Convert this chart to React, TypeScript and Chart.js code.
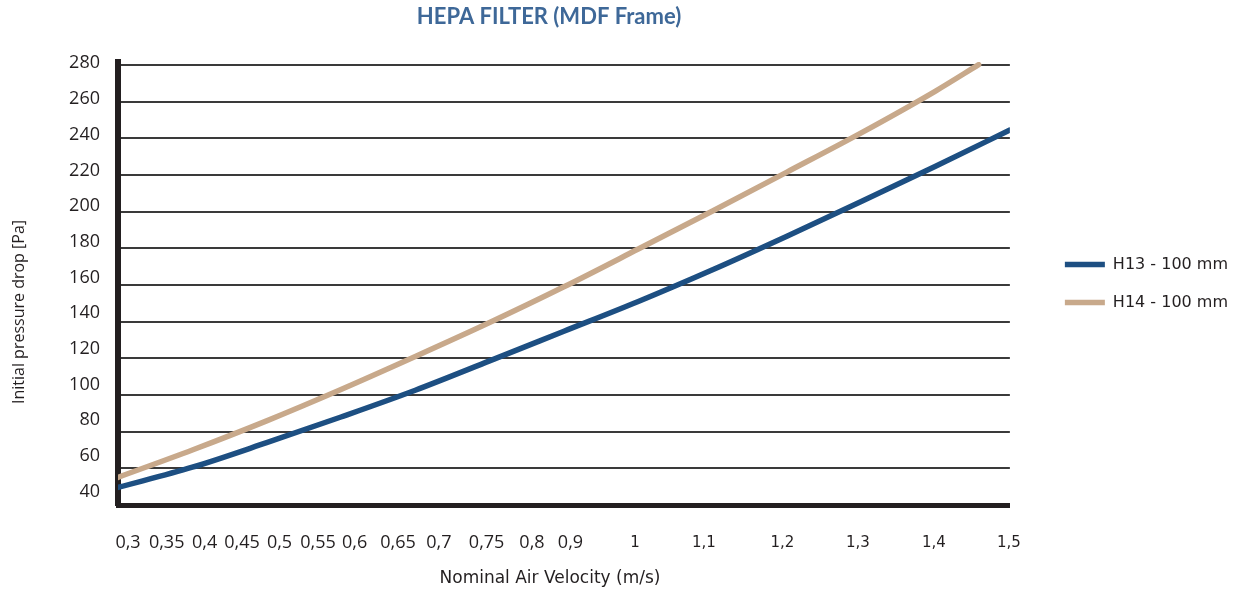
import React, { useEffect, useRef } from "react";
import { Chart, registerables } from "chart.js";

Chart.register(...registerables);

// ---- Text ----
const chartTitle = "HEPA FILTER (MDF Frame)";
const xAxisTitle = "Nominal Air Velocity (m/s)";
const yAxisTitle = "Initial pressure drop [Pa]";
const seriesNames = ["H13 - 100 mm", "H14 - 100 mm"];

// ---- Series (velocity m/s, pressure Pa) ----
const h13Velocity = [0.3, 0.4, 0.5, 0.6, 0.7, 0.8, 0.9, 1.0, 1.1, 1.2, 1.3, 1.4, 1.5];
const h13Pressure = [49.6, 60.6, 74.0, 88.0, 102.6, 118.6, 134.8, 151.0, 168.3, 186.6, 205.5, 224.8, 244.5];

const h14Velocity = [0.3, 0.4, 0.5, 0.6, 0.7, 0.8, 0.9, 1.0, 1.1, 1.2, 1.3, 1.4, 1.458];
const h14Pressure = [55.1, 70.0, 85.9, 103.0, 121.0, 139.5, 159.0, 179.6, 200.4, 221.6, 243.0, 265.8, 280.2];

// ---- Tick labels ----
const xTickLabels = ["0,3", "0,35", "0,4", "0,45", "0,5", "0,55", "0,6", "0,65", "0,7", "0,75", "0,8", "0,9", "1", "1,1", "1,2", "1,3", "1,4", "1,5"];
// where each x label sits along the velocity axis in the original drawing
const xTickAt = [0.3135, 0.3655, 0.4166, 0.4668, 0.5173, 0.5691, 0.6184, 0.6767, 0.7318, 0.796, 0.857, 0.9088, 0.9955, 1.0883, 1.1939, 1.2955, 1.3978, 1.4987];
const yTickValues = [40, 60, 80, 100, 120, 140, 160, 180, 200, 220, 240, 260, 280];

const INK = "#231f20";

const titlesPlugin = {
  id: "titlesPlugin",
  afterDraw(chart: any) {
    const ctx = chart.ctx;
    ctx.save();
    ctx.textAlign = "center";
    ctx.textBaseline = "middle";

    ctx.fillStyle = "#3e6898";
    ctx.font = "bold 22px Lato";
    ctx.fillText(chartTitle, 549, 17);

    ctx.fillStyle = INK;
    ctx.font = "17px 'DejaVu Sans'";
    ctx.fillText(xAxisTitle, 550, 579);

    ctx.translate(19, 312);
    ctx.rotate(-Math.PI / 2);
    ctx.font = "16px 'Open Sans'";
    ctx.fillText(yAxisTitle, 0, 0);
    ctx.restore();
  },
};

export default function App() {
  const canvasRef = useRef<HTMLCanvasElement | null>(null);

  useEffect(() => {
    if (!canvasRef.current) return;
    const toPoints = (xs: number[], ys: number[]) => xs.map((x, i) => ({ x, y: ys[i] }));

    const chart = new Chart(canvasRef.current, {
      type: "line",
      data: {
        datasets: [
          {
            label: seriesNames[0],
            data: toPoints(h13Velocity, h13Pressure),
            borderColor: "#1d4f82",
            backgroundColor: "#1d4f82",
            borderWidth: 5.5,
            borderCapStyle: "round",
            pointRadius: 0,
            cubicInterpolationMode: "monotone",
            yAxisID: "y",
          },
          {
            label: seriesNames[1],
            data: toPoints(h14Velocity, h14Pressure),
            borderColor: "#c8a98b",
            backgroundColor: "#c8a98b",
            borderWidth: 5.5,
            borderCapStyle: "round",
            pointRadius: 0,
            cubicInterpolationMode: "monotone",
            yAxisID: "y",
          },
        ],
      },
      options: {
        responsive: false,
        animation: false,
        layout: { padding: { top: 62, right: 4, left: 0, bottom: 0 } },
        plugins: {
          title: { display: false },
          tooltip: { enabled: false },
          legend: {
            position: "right",
            fullSize: false,
            maxWidth: 400,
            labels: {
              usePointStyle: true,
              pointStyle: "line",
              pointStyleWidth: 40,
              padding: 22,
              color: INK,
              font: { family: "'DejaVu Sans'", size: 16 },
            },
          },
        },
        scales: {
          x: {
            type: "linear",
            position: "bottom",
            min: 0.3,
            max: 1.5,
            afterBuildTicks: (scale: any) => {
              scale.ticks = xTickAt.map((v) => ({ value: v }));
            },
            afterFit: (scale: any) => {
              scale.height = 86;
            },
            grid: { display: false, drawTicks: false },
            border: { display: true, color: INK, width: 5 },
            ticks: {
              autoSkip: false,
              maxRotation: 0,
              minRotation: 0,
              padding: 27,
              color: INK,
              font: (ctx: any) =>
                ctx.index >= 12
                  ? { family: "'DejaVu Sans'", size: 15, lineHeight: 1.5 }
                  : { family: "'Open Sans'", size: 18, lineHeight: 1.25 },
              callback: (_v: any, i: number) => xTickLabels[i],
            },
          },
          y: {
            type: "linear",
            position: "left",
            weight: 0,
            min: 40,
            max: 281.64,
            afterBuildTicks: (scale: any) => {
              scale.ticks = yTickValues.map((v) => ({ value: v }));
            },
            afterFit: (scale: any) => {
              scale.width = 0;
            },
            grid: { display: true, color: "#3a3a3a", lineWidth: 2, drawTicks: false },
            border: { display: true, color: INK, width: 6 },
            ticks: { display: false },
          },
          yLabels: {
            type: "linear",
            position: "left",
            weight: 1,
            min: 32.55,
            max: 280.73,
            afterBuildTicks: (scale: any) => {
              scale.ticks = yTickValues.map((v) => ({ value: v }));
            },
            afterFit: (scale: any) => {
              scale.width = 118;
            },
            grid: { display: false, drawTicks: false },
            border: { display: false },
            ticks: {
              padding: 18,
              color: INK,
              font: { family: "'Open Sans'", size: 18 },
              callback: (v: any) => String(v),
            },
          },
          ySpacer: {
            type: "linear",
            position: "right",
            weight: 0,
            afterFit: (scale: any) => {
              scale.width = 33;
            },
            grid: { display: false, drawTicks: false },
            border: { display: false },
            ticks: { display: false },
          },
        },
      },
      plugins: [titlesPlugin],
    } as any);

    return () => chart.destroy();
  }, []);

  return (
    <div style={{ position: "fixed", left: 0, top: 0, width: 1242, height: 591, background: "#ffffff" }}>
      <canvas ref={canvasRef} width={1242} height={591} />
    </div>
  );
}
